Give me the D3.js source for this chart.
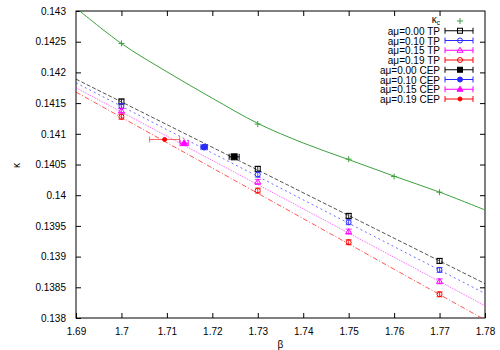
<!DOCTYPE html>
<html>
<head>
<meta charset="utf-8">
<script src="https://cdn.jsdelivr.net/npm/d3@7"></script>
<style>
  body { margin: 0; background: #fff; }
  text { font-family: "Liberation Sans", Arial, sans-serif; font-size: 10px; fill: #000; }
</style>
</head>
<body>
<div id="chart"></div>
<script>
// Data
const betaTP = [1.70, 1.73, 1.75, 1.77];
const kTP00 = [0.141526, 0.140429, 0.139663, 0.138930];
const kTP10 = [0.141451, 0.140336, 0.139560, 0.138783];
const kTP15 = [0.141375, 0.140217, 0.139407, 0.138598];
const kTP19 = [0.141277, 0.140075, 0.139234, 0.138386];
const errTP = 0.00004;

const betaCEP = [1.7248, 1.7182, 1.7138, 1.7095];
const kCEP = [0.140625, 0.140783, 0.140848, 0.140907];
const errCEP = [0.0011, 0.0007, 0.0009, 0.0033];

const fitBeta = [1.69, 1.78];
const fit00 = [0.14189, 0.13856];
const fit10 = [0.14183, 0.13840];
const fit15 = [0.14175, 0.13820];
const fit19 = [0.14168, 0.13797];

const betaKc = [1.70, 1.73, 1.75, 1.76, 1.77];
const kKc = [0.142472, 0.141158, 0.140587, 0.140304, 0.140049];
const curveBeta = [1.69, 1.70, 1.71, 1.72, 1.73, 1.74, 1.75, 1.76, 1.77, 1.78];
const curveK = [0.14305, 0.14247, 0.14201, 0.14158, 0.14117, 0.14085, 0.14058, 0.14031, 0.14005, 0.13976];

const xTicks = [1.69, 1.70, 1.71, 1.72, 1.73, 1.74, 1.75, 1.76, 1.77, 1.78];
const yTicks = [0.138, 0.1385, 0.139, 0.1395, 0.14, 0.1405, 0.141, 0.1415, 0.142, 0.1425, 0.143];

const legendLabels = ["aμ=0.00 TP", "aμ=0.10 TP", "aμ=0.15 TP", "aμ=0.19 TP",
                      "aμ=0.00 CEP", "aμ=0.10 CEP", "aμ=0.15 CEP", "aμ=0.19 CEP"];

// Chart setup
const margin = { top: 11, right: 15, bottom: 32, left: 76 },
    width = 500 - margin.left - margin.right,
    height = 350 - margin.top - margin.bottom;

const svg = d3.select("#chart").append("svg")
    .attr("width", 500).attr("height", 350)
    .append("g")
    .attr("transform", `translate(${margin.left},${margin.top})`);

const x = d3.scaleLinear().domain([1.69, 1.78]).range([0, width]);
const y = d3.scaleLinear().domain([0.138, 0.143]).range([height, 0]);

svg.append("clipPath").attr("id", "clip")
    .append("rect").attr("width", width).attr("height", height);

// Axes: ticks inward on all four sides
const fmt = d => String(+d.toFixed(4));
function styleAxis(g) {
    g.select(".domain").remove();
    g.selectAll("line").attr("stroke", "#000");
    g.selectAll("text").style("font-size", "10px");
}
svg.append("g").attr("transform", `translate(0,${height})`)
    .call(d3.axisBottom(x).tickValues(xTicks).tickFormat(fmt).tickSizeInner(-5).tickPadding(10))
    .call(styleAxis);
svg.append("g")
    .call(d3.axisTop(x).tickValues(xTicks.slice(1, -1)).tickFormat("").tickSizeInner(-5))
    .call(styleAxis);
svg.append("g")
    .call(d3.axisLeft(y).tickValues(yTicks).tickFormat(fmt).tickSizeInner(-5).tickPadding(10))
    .call(styleAxis);
svg.append("g").attr("transform", `translate(${width},0)`)
    .call(d3.axisRight(y).tickValues(yTicks.slice(1, -1)).tickFormat("").tickSizeInner(-5))
    .call(styleAxis);

svg.append("rect").attr("width", width).attr("height", height)
    .attr("fill", "none").attr("stroke", "#000");

svg.append("text").attr("x", width / 2).attr("y", height + 30)
    .attr("text-anchor", "middle").text("β");
svg.append("text").attr("transform", `translate(-56,${height / 2 + 1}) rotate(-90)`)
    .attr("text-anchor", "middle").text("κ");

const plot = svg.append("g").attr("clip-path", "url(#clip)");

// kappa_c curve
const green = "#3ca03c";
plot.append("path")
    .datum(curveBeta.map((b, i) => [b, curveK[i]]))
    .attr("fill", "none").attr("stroke", green).attr("stroke-width", 1)
    .attr("d", d3.line().x(d => x(d[0])).y(d => y(d[1])).curve(d3.curveCatmullRom));

function plus(g, cx, cy, col) {
    g.append("path").attr("d", `M${cx - 3},${cy}H${cx + 3}M${cx},${cy - 3}V${cy + 3}`)
        .attr("stroke", col).attr("stroke-width", 1);
}
betaKc.forEach((b, i) => plus(plot, x(b), y(kKc[i]), green));

// fit lines
const series = [
    { fit: fit00, k: kTP00, color: "#000000", dash: "4,2" },
    { fit: fit10, k: kTP10, color: "#2a2aff", dash: "2,3" },
    { fit: fit15, k: kTP15, color: "#ff00ff", dash: "1,1" },
    { fit: fit19, k: kTP19, color: "#ff0000", dash: "5,2,1,2" }
];
const shapes = ["square", "circle", "triangle", "circle"];

series.forEach(s => {
    plot.append("path")
        .datum(fitBeta.map((b, i) => [b, s.fit[i]]))
        .attr("fill", "none").attr("stroke", s.color).attr("stroke-width", 0.8)
        .attr("stroke-dasharray", s.dash).attr("opacity", 0.85)
        .attr("d", d3.line().x(d => x(d[0])).y(d => y(d[1])));
});

function marker(g, shape, cx, cy, col, filled, r) {
    const fill = filled ? col : "none";
    if (shape === "square") {
        g.append("rect").attr("x", cx - r).attr("y", cy - r).attr("width", 2 * r).attr("height", 2 * r)
            .attr("fill", fill).attr("stroke", col);
    } else if (shape === "circle") {
        g.append("circle").attr("cx", cx).attr("cy", cy).attr("r", r).attr("fill", fill).attr("stroke", col);
    } else {
        g.append("path").attr("d", `M${cx},${cy - r - 0.5}L${cx + r + 0.5},${cy + r - 0.5}L${cx - r - 0.5},${cy + r - 0.5}Z`)
            .attr("fill", fill).attr("stroke", col);
    }
}

// TP points with vertical error bars
series.forEach((s, si) => {
    betaTP.forEach((b, i) => {
        const cx = x(b), y0 = y(s.k[i] - errTP), y1 = y(s.k[i] + errTP);
        plot.append("path").attr("d", `M${cx},${y0}V${y1}M${cx - 3},${y0}H${cx + 3}M${cx - 3},${y1}H${cx + 3}`)
            .attr("stroke", s.color).attr("stroke-width", 0.8).attr("fill", "none");
        marker(plot, shapes[si], cx, y(s.k[i]), s.color, false, 2.5);
    });
});

// CEP points with horizontal error bars
series.forEach((s, si) => {
    const cx = x(betaCEP[si]), cy = y(kCEP[si]);
    const x0 = x(betaCEP[si] - errCEP[si]), x1 = x(betaCEP[si] + errCEP[si]);
    plot.append("path").attr("d", `M${x0},${cy}H${x1}M${x0},${cy - 3}V${cy + 3}M${x1},${cy - 3}V${cy + 3}`)
        .attr("stroke", s.color).attr("stroke-width", 1).attr("fill", "none").attr("opacity", si === 3 ? 0.6 : 1);
    marker(plot, shapes[si], cx, cy, s.color, true, si === 3 ? 2 : 3);
});

// Legend
const lg = svg.append("g").attr("transform", `translate(${440 - margin.left},${21 - margin.top})`);
const rowH = 9.75;
const kc = lg.append("text").attr("x", 0).attr("y", 2).attr("text-anchor", "end");
kc.append("tspan").text("κ");
kc.append("tspan").attr("dy", 2).style("font-size", "6.5px").text("c");
plus(lg, 20, 0, green);
legendLabels.forEach((lab, i) => {
    const ly = (i + 1) * rowH;
    const s = series[i % 4];
    lg.append("text").attr("x", 0).attr("y", ly + 4).attr("text-anchor", "end").text(lab);
    lg.append("path").attr("d", `M5,${ly}H33M5,${ly - 3}V${ly + 3}M33,${ly - 3}V${ly + 3}`)
        .attr("stroke", s.color).attr("stroke-width", 1).attr("fill", "none");
    marker(lg, shapes[i % 4], 20, ly, s.color, i >= 4, i === 7 ? 2 : 2.5);
});
</script>
</body>
</html>
